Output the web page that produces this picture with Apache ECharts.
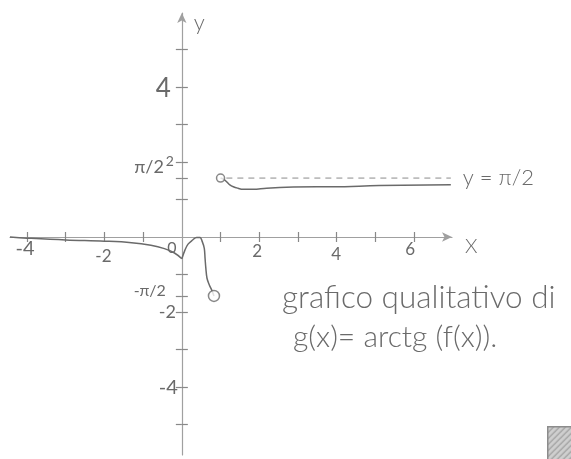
<!DOCTYPE html>
<html>
<head>
<meta charset="utf-8">
<script src="https://cdn.jsdelivr.net/npm/echarts@6/dist/echarts.min.js"></script>
<style>
  html, body { margin: 0; padding: 0; background: #ffffff; }
  #chart { width: 571px; height: 459px; }
</style>
</head>
<body>
<div id="chart"></div>
<script>
const HALF_PI = Math.PI / 2;

// g(x) for x < 0: tends to 0 from below, reaches about -0.58 at the origin
const leftX = [-4.44, -4, -3, -2, -1.3, -0.8, -0.45, -0.2, 0];
const leftY = [0, -0.03, -0.08, -0.11, -0.15, -0.22, -0.31, -0.42, -0.58];

// hump between 0 and the open end at -π/2
const midX = [0, 0.08, 0.16, 0.28, 0.38, 0.47, 0.53, 0.58, 0.60, 0.62, 0.65, 0.71, 0.77, 0.83];
const midY = [-0.58, -0.35, -0.19, -0.08, -0.01, -0.01, -0.13, -0.30, -0.57, -0.83, -1.10, -1.28, -1.41, -HALF_PI];

// branch starting from the open end at π/2, approaching y = π/2 from below
const rightX = [1, 1.07, 1.16, 1.24, 1.33, 1.45, 1.58, 1.84, 2.19, 2.88, 3.48, 3.9, 5.1, 6.95];
const rightY = [HALF_PI, 1.54, 1.47, 1.39, 1.34, 1.30, 1.27, 1.27, 1.30, 1.33, 1.34, 1.34, 1.37, 1.39];

// open circles (excluded end points)
const holeX = [1, 0.83];
const holeY = [HALF_PI, -HALF_PI];
const holeSize = [8, 11];

// horizontal asymptote y = π/2
const asymX = [1.15, 6.95];
const asymY = [HALF_PI, HALF_PI];

// axis ticks and labels
const xTicks = [-4, -3, -2, -1, 1, 2, 3, 4, 5, 6];
const xLabels = [-4, -2, 0, 2, 4, 6];
const yTicks = [-5, -4, -3, -2, -HALF_PI, -1, 1, HALF_PI, 2, 3, 4, 5];
const yLabels = [4, 2, HALF_PI, -HALF_PI, -2, -4];

const xMin = -4.44, xMax = 6.98;
const yMin = -5.81, yMax = 5.97;

const PENCIL = '#6a6a6a';
const AXIS = '#a0a0a0';
const FONT = "Lato, 'Open Sans', sans-serif";

const W = 571, H = 459;
const GRID = { left: 10, right: 119, top: 13, bottom: 4 };
const gridW = W - GRID.left - GRID.right;
const gridH = H - GRID.top - GRID.bottom;

// move the axes from the grid edges onto the lines x = 0 and y = 0
const yAxisShift = -gridW * (0 - xMin) / (xMax - xMin);
const yAxisShiftRight = -gridW * (xMax - 0) / (xMax - xMin);
const xAxisShift = -gridH * (0 - yMin) / (yMax - yMin);
const xAxisShiftTop = -gridH * (yMax - 0) / (yMax - yMin);

const zip = (xs, ys) => xs.map((x, i) => [x, ys[i]]);
const near = (a, b) => Math.abs(a - b) < 1e-6;

// hatched fill for the small grey square in the corner
const hatch = document.createElement('canvas');
hatch.width = 6; hatch.height = 6;
(function () {
  const c = hatch.getContext('2d');
  c.fillStyle = '#cfcfcf';
  c.fillRect(0, 0, 6, 6);
  c.strokeStyle = '#9a9a9a';
  c.lineWidth = 1.2;
  c.beginPath();
  c.moveTo(0, 6); c.lineTo(6, 0);
  c.moveTo(-3, 3); c.lineTo(3, -3);
  c.moveTo(3, 9); c.lineTo(9, 3);
  c.stroke();
})();

const chart = echarts.init(document.getElementById('chart'), null, { renderer: 'canvas' });

const xLabelRich = {
  a: { fontSize: 20, color: PENCIL, fontFamily: FONT, padding: [0, 4, 0, 0] },
  b: { fontSize: 17, color: PENCIL, fontFamily: FONT, padding: [9, 2, 0, 0] },
  o: { fontSize: 16, color: PENCIL, fontFamily: FONT, padding: [1, 20, 0, 0] },
  c: { fontSize: 17, color: PENCIL, fontFamily: FONT, padding: [4, 4, 0, 0] },
  d: { fontSize: 17, color: PENCIL, fontFamily: FONT, padding: [7, 1, 0, 0] },
  e: { fontSize: 17, color: PENCIL, fontFamily: FONT, padding: [2, 8, 0, 0] }
};
const yLabelRich = {
  f: { fontSize: 26, color: PENCIL, fontFamily: FONT, padding: [4, 7, 0, 0] },
  s: { fontSize: 14, color: PENCIL, fontFamily: FONT, padding: [0, 4, 0, 0] },
  p: { fontSize: 18, color: PENCIL, fontFamily: FONT, padding: [0, 14, 22, 0] },
  q: { fontSize: 16, color: PENCIL, fontFamily: FONT, padding: [0, 12, 10, 0] },
  m: { fontSize: 18, color: PENCIL, fontFamily: FONT, padding: [0, 2, 0, 0] },
  n: { fontSize: 20, color: PENCIL, fontFamily: FONT, padding: [0, 0, 0, 0] }
};

const tickStyle = { color: '#888', width: 1.2 };

const option = {
  animation: false,
  backgroundColor: '#ffffff',
  title: [
    {
      text: 'grafico qualitativo di',
      left: 282, top: 282, padding: 0,
      textStyle: { fontSize: 31.5, fontWeight: 300, color: PENCIL, fontFamily: FONT }
    },
    {
      text: 'g(x)= arctg (f(x)).',
      left: 293, top: 322, padding: 0,
      textStyle: { fontSize: 30, fontWeight: 300, color: PENCIL, fontFamily: FONT }
    }
  ],
  grid: Object.assign({ outerBoundsMode: 'none' }, GRID),
  xAxis: [
    {
      type: 'value', min: xMin, max: xMax, position: 'bottom', offset: xAxisShift,
      name: 'X', nameLocation: 'end', nameGap: 13,
      nameTextStyle: { fontSize: 20, color: PENCIL, fontFamily: FONT, fontWeight: 300, verticalAlign: 'top' },
      axisLine: { onZero: false, lineStyle: { color: AXIS, width: 1.2 }, symbol: ['none', 'arrow'], symbolSize: [7, 10] },
      axisTick: { show: true, length: 5, customValues: xTicks, lineStyle: tickStyle },
      axisLabel: {
        margin: 2, customValues: xLabels,
        formatter: v => {
          if (v === -4) return '{a|-4}';
          if (v === -2) return '{b|-2}';
          if (v === 0) return '{o|0}';
          if (v === 2) return '{c|2}';
          if (v === 4) return '{d|4}';
          return '{e|' + v + '}';
        },
        rich: xLabelRich
      },
      splitLine: { show: false }
    },
    {
      type: 'value', min: xMin, max: xMax, position: 'top', offset: xAxisShiftTop,
      axisLine: { show: false, onZero: false },
      axisTick: { show: true, length: 5, customValues: xTicks, lineStyle: tickStyle },
      axisLabel: { show: false },
      splitLine: { show: false }
    }
  ],
  yAxis: [
    {
      type: 'value', min: yMin, max: yMax, position: 'left', offset: yAxisShift,
      name: 'y', nameLocation: 'end', nameGap: -10,
      nameTextStyle: { fontSize: 22, color: PENCIL, fontFamily: FONT, fontWeight: 300, align: 'left', verticalAlign: 'middle', padding: [0, 0, 0, 12] },
      axisLine: { onZero: false, lineStyle: { color: AXIS, width: 1.2 }, symbol: ['none', 'arrow'], symbolSize: [7, 10] },
      axisTick: { show: true, length: 6, customValues: yTicks, lineStyle: tickStyle },
      axisLabel: {
        margin: 4, customValues: yLabels,
        formatter: v => {
          if (near(v, 4)) return '{f|4}';
          if (near(v, 2)) return '{s|2}';
          if (near(v, HALF_PI)) return '{p|π/2}';
          if (near(v, -HALF_PI)) return '{q|-π/2}';
          if (near(v, -2)) return '{m|-2}';
          return '{n|-4}';
        },
        rich: yLabelRich
      },
      splitLine: { show: false }
    },
    {
      type: 'value', min: yMin, max: yMax, position: 'right', offset: yAxisShiftRight,
      axisLine: { show: false, onZero: false },
      axisTick: { show: true, length: 6, customValues: yTicks, lineStyle: tickStyle },
      axisLabel: { show: false },
      splitLine: { show: false }
    }
  ],
  series: [
    {
      name: 'x<0', type: 'line', data: zip(leftX, leftY),
      smooth: 0.4, showSymbol: false, symbol: 'none',
      lineStyle: { color: PENCIL, width: 1.5 }
    },
    {
      name: 'hump', type: 'line', data: zip(midX, midY),
      smooth: 0.35, showSymbol: false, symbol: 'none',
      lineStyle: { color: PENCIL, width: 1.5 }
    },
    {
      name: 'x>1', type: 'line', data: zip(rightX, rightY),
      smooth: 0.4, showSymbol: false, symbol: 'none',
      lineStyle: { color: PENCIL, width: 1.5 }
    },
    {
      name: 'asintoto', type: 'line', data: zip(asymX, asymY),
      showSymbol: false, symbol: 'none',
      lineStyle: { color: '#8a8a8a', width: 1, type: [6, 5] },
      endLabel: {
        show: true, formatter: 'y = π/2', distance: 12,
        fontSize: 22, color: PENCIL, fontFamily: FONT, fontWeight: 300
      }
    },
    {
      name: 'estremi', type: 'scatter', z: 5,
      data: holeX.map((x, i) => ({ value: [x, holeY[i]], symbolSize: holeSize[i] })),
      symbol: 'circle',
      itemStyle: { color: '#ffffff', borderColor: PENCIL, borderWidth: 1.5 }
    }
  ],
  graphic: [
    {
      type: 'rect', left: 547, top: 426, silent: true,
      shape: { width: 30, height: 40 },
      style: { fill: { image: hatch, repeat: 'repeat' }, stroke: '#8c8c8c', lineWidth: 1.5 }
    }
  ]
};

chart.setOption(option);
</script>
</body>
</html>
